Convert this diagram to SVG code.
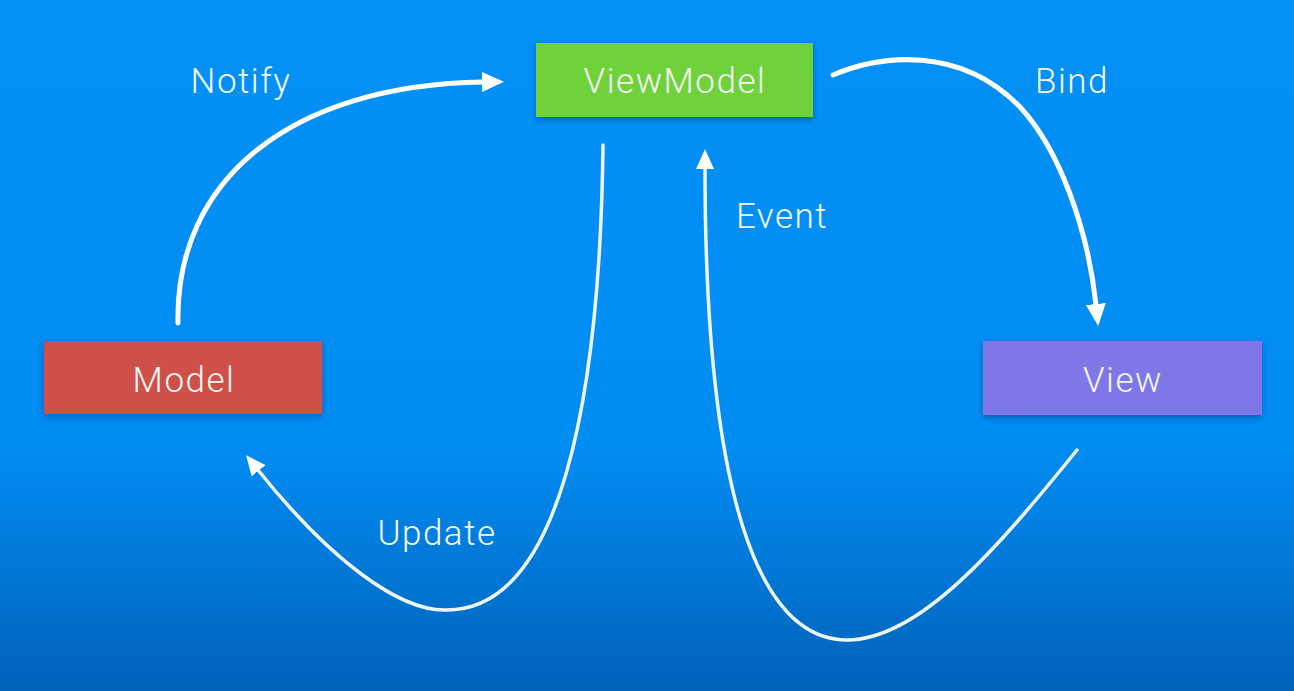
<svg xmlns="http://www.w3.org/2000/svg" width="1294" height="691" viewBox="0 0 1294 691">
<style>
.lbl{font-family:Roboto,"Liberation Sans",sans-serif;font-weight:300;font-size:35px;letter-spacing:1.5px;fill:#f3f8f6;text-anchor:middle}
.thick{fill:none;stroke:#ffffff;stroke-width:5;stroke-linecap:round}
.thin{fill:none;stroke:#eef6f3;stroke-width:3.5;stroke-linecap:round}
</style>
<defs>
<linearGradient id="bg" x1="0" y1="0" x2="0" y2="1">
<stop offset="0" stop-color="#0391f7"/>
<stop offset="0.65" stop-color="#018cf2"/>
<stop offset="1" stop-color="#0062b9"/>
</linearGradient>
<filter id="sh" x="-10%" y="-20%" width="120%" height="160%">
<feDropShadow dx="0" dy="3" stdDeviation="3" flood-color="#002a60" flood-opacity="0.4"/>
</filter>
<marker id="ah" viewBox="0 0 22 20" refX="1" refY="10" markerWidth="22" markerHeight="20" markerUnits="userSpaceOnUse" orient="auto">
<path d="M0,0 L22,10 L0,20 z" fill="#ffffff"/>
</marker>
<marker id="ah2" viewBox="0 0 20 18" refX="1" refY="9" markerWidth="20" markerHeight="18" markerUnits="userSpaceOnUse" orient="auto">
<path d="M0,0 L20,9 L0,18 z" fill="#ffffff"/>
</marker>
</defs>
<rect x="0" y="0" width="1294" height="691" fill="url(#bg)"/>
<g id="connectors">
<path class="thick" d="M178,323 C175,180 290,85 483,82" marker-end="url(#ah)"/>
<path class="thick" d="M833,75 C880,55 960,45 1020,107 C1060,150 1088,230 1096,305" marker-end="url(#ah)"/>
<path class="thin" d="M603,145 C600,400 560,610 447,610 C400,612 330,560 258,470" marker-end="url(#ah2)"/>
<path class="thin" d="M1077,450 C1000,545 920,640 847,640 C760,640 705,500 705,168" marker-end="url(#ah2)"/>
<text class="lbl" x="241" y="93">Notify</text>
<text class="lbl" x="1072" y="93">Bind</text>
<text class="lbl" x="782" y="228">Event</text>
<text class="lbl" x="437" y="545">Update</text>
</g>
<g id="viewmodel">
<rect x="536" y="43" width="277" height="74" fill="#6fd23a" filter="url(#sh)"/>
<text class="lbl" x="675" y="93">ViewModel</text>
</g>
<g id="model">
<rect x="44" y="341" width="278" height="73" fill="#cf4f4a" filter="url(#sh)"/>
<text class="lbl" x="184" y="392">Model</text>
</g>
<g id="view">
<rect x="983" y="341" width="279" height="74" fill="#7f76e8" filter="url(#sh)"/>
<text class="lbl" x="1123" y="392">View</text>
</g>
</svg>
